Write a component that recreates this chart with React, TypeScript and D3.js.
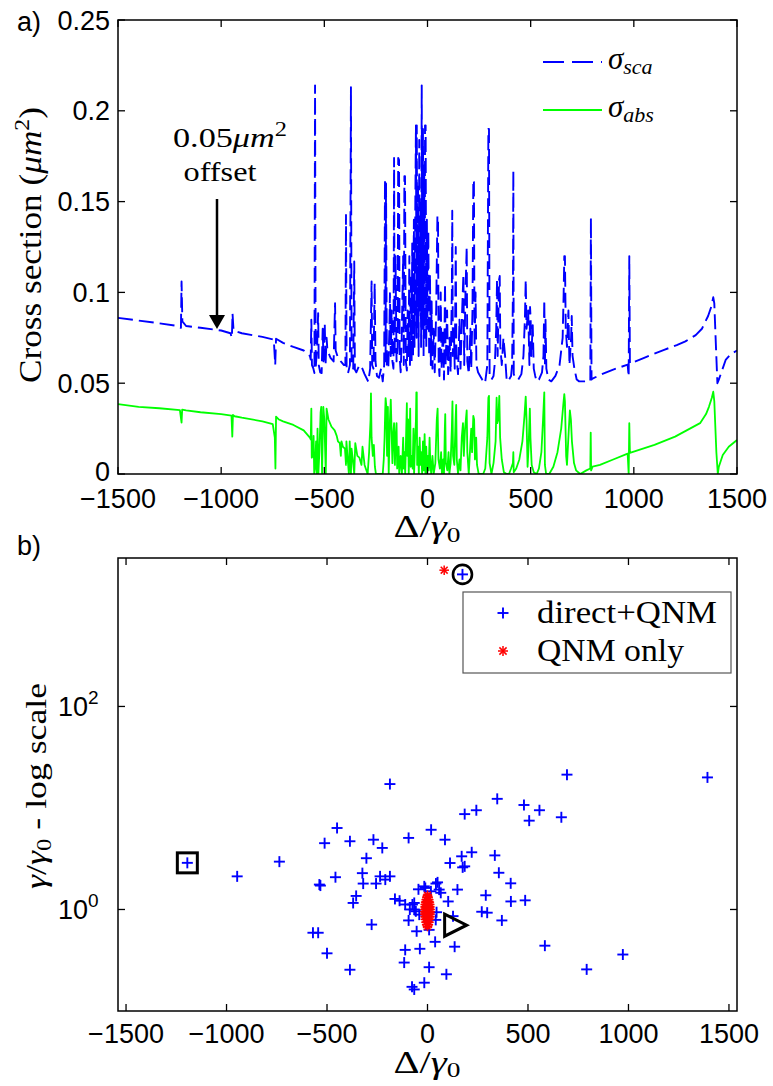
import React from "react";
import * as d3 from "d3";

// ---------- Panel a) data: scattering (offset by 0.05) and absorption cross sections ----------
const SCA: [number, number][] = [
  [-1500, 0.086], [-1400, 0.0845], [-1300, 0.083], [-1210, 0.0815], [-1195, 0.0805], [-1192, 0.106], [-1188, 0.084],
  [-1170, 0.0815], [-1100, 0.0805], [-1000, 0.079], [-955, 0.0775], [-948, 0.075], [-945, 0.0885], [-940, 0.079],
  [-900, 0.0775], [-800, 0.0755], [-745, 0.074], [-738, 0.06], [-734, 0.0745], [-700, 0.0722], [-650, 0.07],
  [-600, 0.068], [-570, 0.065], [-566, 0.063],
  [-563, 0.085], [-560, 0.06], [-553, 0.058], [-548, 0.0556], [-545, 0.214], [-542, 0.058], [-535, 0.07], [-530, 0.0886],
  [-527, 0.06], [-520, 0.056], [-513, 0.0556], [-508, 0.08], [-504, 0.062], [-498, 0.083], [-494, 0.06], [-489, 0.075],
  [-485, 0.068], [-470, 0.064], [-455, 0.062], [-448, 0.094], [-445, 0.068], [-434, 0.064], [-420, 0.062], [-405, 0.06],
  [-398, 0.06], [-395, 0.1426], [-392, 0.058], [-385, 0.0556], [-376, 0.06], [-371, 0.213], [-368, 0.06], [-360, 0.058],
  [-355, 0.117], [-352, 0.0575], [-345, 0.056], [-330, 0.06], [-319, 0.059], [-305, 0.055], [-287, 0.0508], [-278, 0.058],
  [-271, 0.106], [-268, 0.06], [-262, 0.058], [-256, 0.105], [-252, 0.062], [-245, 0.054], [-235, 0.053], [-225, 0.058],
  [-217, 0.051], [-210, 0.06], [-206, 0.162], [-203, 0.062], [-201, 0.16], [-197, 0.06], [-190, 0.058], [-185, 0.078],
  [-182, 0.0996], [-178, 0.065], [-174, 0.09], [-170, 0.062], [-165, 0.058], [-162, 0.174], [-159, 0.065], [-155, 0.12],
  [-150, 0.062], [-145, 0.07], [-142, 0.174], [-138, 0.173], [-135, 0.065], [-130, 0.056], [-125, 0.075], [-118, 0.12],
  [-115, 0.06], [-112, 0.164], [-109, 0.164], [-105, 0.062], [-100, 0.057], [-96, 0.09], [-92, 0.065], [-88, 0.12],
  [-85, 0.06], [-80, 0.11], [-77, 0.062], [-74, 0.127], [-70, 0.065], [-66, 0.14], [-63, 0.07], [-59, 0.15], [-56, 0.192],
  [-53, 0.075], [-52, 0.192], [-49, 0.08], [-46, 0.16], [-43, 0.065], [-40, 0.184], [-37, 0.09], [-34, 0.15], [-31, 0.07],
  [-28, 0.214], [-25, 0.08], [-22, 0.19], [-19, 0.065], [-16, 0.17], [-13, 0.075], [-12, 0.192], [-9, 0.192], [-6, 0.07],
  [-3, 0.14], [0, 0.08], [4, 0.134], [8, 0.065], [12, 0.11], [16, 0.06], [20, 0.095], [24, 0.058], [30, 0.08], [35, 0.056],
  [42, 0.09], [48, 0.142], [51, 0.14], [54, 0.062], [58, 0.054], [64, 0.1], [68, 0.058], [75, 0.08], [80, 0.052],
  [85, 0.105], [88, 0.06], [95, 0.09], [100, 0.055], [107, 0.075], [112, 0.056], [118, 0.1], [120, 0.145], [123, 0.065],
  [128, 0.08], [132, 0.058], [137, 0.125], [140, 0.065], [148, 0.055], [155, 0.085], [160, 0.058], [168, 0.09],
  [174, 0.11], [178, 0.06], [184, 0.1], [190, 0.125], [193, 0.062], [200, 0.055], [208, 0.08], [212, 0.058], [218, 0.09],
  [222, 0.162], [225, 0.161], [228, 0.07], [233, 0.1], [237, 0.06], [245, 0.056], [255, 0.054], [265, 0.052],
  [279, 0.05], [290, 0.06], [295, 0.19], [298, 0.19], [301, 0.055], [310, 0.052], [320, 0.054], [327, 0.062],
  [333, 0.08], [337, 0.107], [340, 0.065], [347, 0.107], [350, 0.109], [353, 0.07], [360, 0.06], [368, 0.075],
  [376, 0.065], [384, 0.051], [395, 0.052], [405, 0.054], [410, 0.06], [414, 0.1], [416, 0.167], [418, 0.055],
  [425, 0.053], [440, 0.052], [455, 0.055], [465, 0.065], [472, 0.085], [476, 0.107], [480, 0.08], [488, 0.09],
  [494, 0.06], [497, 0.092], [500, 0.085], [503, 0.065], [510, 0.082], [515, 0.058], [522, 0.054], [529, 0.051],
  [540, 0.052], [555, 0.056], [562, 0.065], [566, 0.096], [569, 0.06], [572, 0.085], [576, 0.058], [586, 0.052],
  [600, 0.051], [620, 0.054], [640, 0.06], [655, 0.075], [660, 0.1], [663, 0.12], [666, 0.12], [670, 0.08], [676, 0.07],
  [683, 0.09], [688, 0.06], [696, 0.075], [699, 0.087], [703, 0.065], [712, 0.058], [723, 0.052], [735, 0.051],
  [747, 0.051], [770, 0.051], [789, 0.051], [792, 0.141], [795, 0.052], [800, 0.0525],
  [836, 0.0545], [900, 0.0575], [970, 0.0602], [975, 0.0536], [978, 0.12], [981, 0.0608], [1050, 0.064], [1150, 0.0685],
  [1208, 0.071], [1250, 0.073], [1300, 0.0765], [1330, 0.08], [1360, 0.087], [1375, 0.092], [1385, 0.0973], [1390, 0.094],
  [1398, 0.07], [1405, 0.05], [1412, 0.052], [1445, 0.0628], [1470, 0.066], [1500, 0.068],
];

const ABS: [number, number][] = [
  [-1500, 0.0385], [-1400, 0.037], [-1300, 0.0362], [-1200, 0.0352], [-1192, 0.0283], [-1189, 0.0355], [-1170, 0.035],
  [-1100, 0.034], [-1000, 0.033], [-950, 0.0322], [-946, 0.0206], [-943, 0.0325], [-935, 0.0318], [-900, 0.031],
  [-800, 0.029], [-750, 0.0275], [-740, 0.02], [-737, 0.003], [-734, 0.0316], [-720, 0.03], [-700, 0.029], [-650, 0.027],
  [-600, 0.024], [-570, 0.02], [-566, 0.019],
  [-563, 0.036], [-561, 0.009], [-555, 0.01], [-552, 0.021], [-549, 0], [-545, 0.003], [-540, 0.018], [-536, 0],
  [-533, 0.025], [-529, 0], [-524, 0.012], [-518, 0.034], [-515, 0.037], [-511, 0], [-505, 0.037], [-500, 0.03],
  [-493, 0], [-489, 0.036], [-480, 0.03], [-465, 0.026], [-450, 0.024], [-440, 0.021], [-434, 0.018], [-425, 0.017],
  [-420, 0.01], [-417, 0.018], [-410, 0.015], [-400, 0.014], [-395, 0.005], [-393, 0.018], [-388, 0.01], [-381, 0],
  [-377, 0.018], [-371, 0], [-368, 0.014], [-362, 0.008], [-355, 0], [-350, 0.017], [-340, 0.01], [-330, 0.009],
  [-320, 0.005], [-315, 0.015], [-305, 0.005], [-290, 0], [-283, 0.012], [-276, 0.03], [-274, 0.0444], [-271, 0.02],
  [-265, 0.01], [-260, 0.016], [-255, 0.004], [-250, 0], [-240, 0], [-225, 0], [-217, 0], [-212, 0.008], [-208, 0.02],
  [-205, 0.035], [-203, 0.0418], [-200, 0.038], [-196, 0.01], [-192, 0.037], [-188, 0], [-182, 0.03], [-178, 0.041],
  [-175, 0.028], [-170, 0.006], [-166, 0.022], [-162, 0.028], [-158, 0.005], [-154, 0.02], [-150, 0.028], [-147, 0.003],
  [-140, 0.015], [-137, 0], [-130, 0.01], [-124, 0], [-118, 0.02], [-115, 0.003], [-112, 0.012], [-108, 0],
  [-103, 0.025], [-100, 0.039], [-98, 0.01], [-94, 0.03], [-91, 0], [-88, 0.012], [-84, 0.036], [-81, 0.004],
  [-76, 0.01], [-72, 0.003], [-68, 0.025], [-65, 0], [-61, 0.015], [-56, 0.03], [-54, 0.045], [-52, 0.045], [-50, 0.005],
  [-46, 0.015], [-42, 0], [-38, 0.02], [-34, 0.005], [-30, 0.012], [-26, 0], [-22, 0.018], [-18, 0.002], [-14, 0.022],
  [-10, 0], [-6, 0.015], [-2, 0], [2, 0.01], [6, 0.002], [10, 0.02], [14, 0.005], [18, 0], [24, 0.01], [30, 0],
  [38, 0.006], [45, 0.03], [49, 0.036], [53, 0.008], [60, 0.003], [66, 0.012], [70, 0], [76, 0.008], [80, 0],
  [84, 0.025], [86, 0.033], [89, 0.006], [96, 0.002], [102, 0.012], [106, 0], [112, 0.006], [118, 0.025], [121, 0.04],
  [124, 0.01], [130, 0.005], [136, 0.03], [139, 0.038], [142, 0.008], [148, 0], [155, 0.008], [160, 0.002], [166, 0.02],
  [172, 0.028], [176, 0.01], [182, 0.025], [186, 0.03], [190, 0.035], [193, 0.012], [200, 0], [207, 0.015], [212, 0.025],
  [216, 0.012], [222, 0.032], [226, 0.03], [230, 0.008], [236, 0.02], [240, 0.005], [248, 0], [260, 0], [270, 0],
  [280, 0.003], [290, 0.02], [295, 0.042], [298, 0.043], [301, 0.006], [310, 0], [320, 0.006], [330, 0.018],
  [335, 0.042], [338, 0.028], [343, 0.03], [348, 0.043], [352, 0.02], [360, 0.008], [370, 0.001], [384, 0], [395, 0],
  [405, 0.003], [414, 0.006], [416, 0.012], [418, 0.001], [430, 0.003], [445, 0.008], [460, 0.018], [470, 0.032],
  [476, 0.0426], [480, 0.03], [485, 0.004], [490, 0.015], [496, 0.036], [499, 0.02], [505, 0.005], [515, 0.001],
  [529, 0], [540, 0.003], [552, 0.012], [560, 0.03], [566, 0.045], [569, 0.005], [575, 0], [590, 0], [610, 0.004],
  [630, 0.012], [648, 0.025], [658, 0.038], [663, 0.044], [666, 0.04], [672, 0.01], [676, 0.005], [685, 0.025],
  [690, 0.035], [695, 0.03], [700, 0.018], [710, 0.006], [720, 0.002], [740, 0], [770, 0.002], [789, 0.003],
  [791, 0.0228], [793, 0.002], [800, 0.004],
  [836, 0.005], [900, 0.008], [970, 0.0112], [975, 0], [978, 0.028], [981, 0.0116], [1100, 0.016], [1200, 0.0206],
  [1321, 0.028], [1350, 0.033], [1364, 0.037], [1378, 0.042], [1385, 0.0453], [1390, 0.04], [1400, 0.012], [1407, 0],
  [1412, 0.004], [1431, 0.0105], [1460, 0.015], [1500, 0.0187],
];

const A_X_TICKS = [-1500, -1000, -500, 0, 500, 1000, 1500];
const A_Y_TICKS = [0, 0.05, 0.1, 0.15, 0.2, 0.25];
const A_Y_LABELS = ["0", "0.05", "0.1", "0.15", "0.2", "0.25"];

// ---------- Panel b) data: resonances (Δ/γ0, γ/γ0) ----------
const DIRECT_QNM: [number, number][] = [
  [-1195, 2.88], [-947, 2.12], [-737, 2.96], [-187, 17.2], [-450, 6.35], [-512, 4.5], [-386, 4.7], [-269, 4.87],
  [-225, 4.04], [-304, 3.2], [-538, 1.76], [-533, 1.72], [-458, 2.08], [-324, 2.28], [-320, 1.8], [-256, 1.8],
  [-236, 2.12], [-210, 1.97], [-187, 2.12], [-355, 1.36], [-370, 1.16], [-162, 1.27], [-139, 1.22], [-111, 1.12],
  [-278, 0.71], [-570, 0.59], [-544, 0.59], [-500, 0.37], [-386, 0.255], [-94, 5.07], [18, 6.1], [87, 4.87],
  [112, 2.87], [170, 3.34], [220, 3.66], [175, 2.6], [185, 2.66], [185, 8.7], [243, 9.5], [347, 12.3], [480, 10.7],
  [557, 9.5], [506, 7.5], [666, 8.1], [694, 21.3], [1393, 20.0], [335, 3.41], [355, 2.3], [414, 1.81], [415, 1.2],
  [486, 1.23], [290, 1.38], [270, 0.95], [297, 0.93], [370, 0.78], [584, 0.44], [972, 0.36], [792, 0.257],
  [149, 1.57], [103, 1.2], [58, 1.57], [66, 1.46], [50, 1.85], [42, 1.8], [17, 1.51], [-16, 1.69], [-45, 1.58],
  [-11, 1.63], [-66, 1.16], [-66, 1.0], [-88, 1.0], [-75, 1.12], [-58, 0.96], [-41, 0.89], [45, 0.94], [41, 0.79],
  [127, 0.86], [-94, 0.78], [8, 0.63], [-54, 0.61], [38, 0.48], [135, 0.43], [-111, 0.4], [-38, 0.41], [-116, 0.3],
  [8, 0.27], [94, 0.23], [-16, 0.19], [-77, 0.173], [-66, 0.163], [174, 2000],
];

const QNM_ONLY: [number, number][] = [
  [83, 2200],
  [0, 0.68], [-4, 0.71], [4, 0.71], [-7, 0.75], [7, 0.75], [-10, 0.8], [10, 0.8], [-12, 0.85], [12, 0.85], [-13, 0.9],
  [13, 0.9], [-13, 0.95], [13, 0.95], [-13, 1.0], [13, 1.0], [-12, 1.06], [12, 1.06], [-11, 1.12], [11, 1.12],
  [-9, 1.18], [9, 1.18], [-6, 1.25], [6, 1.25], [-3, 1.32], [3, 1.32], [0, 1.38], [0, 1.0], [0, 0.8], [0, 1.2],
  [0, 0.9], [0, 1.1], [-6, 0.95], [6, 0.95], [-6, 1.05], [6, 1.05], [-6, 0.85], [6, 0.85],
];

// highlighted resonances: [Δ, γ]
const SQUARE_MARK: [number, number] = [-1195, 2.88];
const CIRCLE_MARK: [number, number] = [174, 2000];
const TRIANGLE_MARK: [number, number] = [135, 0.7];

const B_X_TICKS = [-1500, -1000, -500, 0, 500, 1000, 1500];
const B_Y_TICKS = [1, 100];
const B_Y_EXP = ["0", "2"];

const SANS = "'Liberation Sans', Arial, Helvetica, sans-serif";
const SERIF = "'Liberation Serif', 'Times New Roman', serif";
const BLUE = "#0000ff";
const GREEN = "#00ff00";
const RED = "#ff0000";

const fmtTick = (v: number) => (v < 0 ? "\u2212" + Math.abs(v) : String(v));

export default function App() {
  // Panel a geometry
  const aL = 118, aR = 737, aT = 20, aB = 474;
  const xa = d3.scaleLinear().domain([-1500, 1500]).range([aL, aR]);
  const ya = d3.scaleLinear().domain([0, 0.25]).range([aB, aT]);
  const lineA = d3.line<[number, number]>().x((d) => xa(d[0])).y((d) => ya(d[1]));

  // Panel b geometry
  const bL = 118, bR = 737, bT = 558, bB = 1011;
  const xb = d3.scaleLinear().domain([-1540, 1540]).range([bL, bR]);
  const yb = d3.scaleLog().domain([0.1, 2900]).range([bB, bT]);

  const tk = 7;
  const plus = (cx: number, cy: number, s: number, color: string, key: string | number, w = 1.9) => (
    <g key={key} stroke={color} strokeWidth={w}>
      <line x1={cx - s} x2={cx + s} y1={cy} y2={cy} />
      <line x1={cx} x2={cx} y1={cy - s} y2={cy + s} />
    </g>
  );
  const star = (cx: number, cy: number, s: number, color: string, key: string | number) => {
    const d = s * 0.72;
    return (
      <g key={key} stroke={color} strokeWidth={1.5}>
        <line x1={cx - s} x2={cx + s} y1={cy} y2={cy} />
        <line x1={cx} x2={cx} y1={cy - s} y2={cy + s} />
        <line x1={cx - d} x2={cx + d} y1={cy - d} y2={cy + d} />
        <line x1={cx - d} x2={cx + d} y1={cy + d} y2={cy - d} />
      </g>
    );
  };

  const sqX = xb(SQUARE_MARK[0]), sqY = yb(SQUARE_MARK[1]);
  const ciX = xb(CIRCLE_MARK[0]), ciY = yb(CIRCLE_MARK[1]);
  const trX = xb(TRIANGLE_MARK[0]), trY = yb(TRIANGLE_MARK[1]);

  return (
    <svg width={773} height={1086} style={{ position: "absolute", left: 0, top: 0, background: "#fff" }}>
      <rect x={0} y={0} width={773} height={1086} fill="#fff" />
      <defs>
        <clipPath id="clipA">
          <rect x={aL} y={aT} width={aR - aL} height={aB - aT} />
        </clipPath>
      </defs>

      {/* ================= Panel a ================= */}
      <text x={17} y={31} fontFamily={SANS} fontSize={27}>a)</text>
      <g clipPath="url(#clipA)">
        <path d={lineA(ABS) || ""} fill="none" stroke={GREEN} strokeWidth={1.8} strokeLinejoin="round" />
        <path d={lineA(SCA) || ""} fill="none" stroke={BLUE} strokeWidth={1.9} strokeDasharray="15,6" strokeLinejoin="round" />
      </g>
      <rect x={aL} y={aT} width={aR - aL} height={aB - aT} fill="none" stroke="#000" strokeWidth={1.5} />
      {A_X_TICKS.map((v) => (
        <g key={"ax" + v} stroke="#000" strokeWidth={1.3}>
          <line x1={xa(v)} x2={xa(v)} y1={aB} y2={aB - tk} />
          <line x1={xa(v)} x2={xa(v)} y1={aT} y2={aT + tk} />
        </g>
      ))}
      {A_Y_TICKS.map((v) => (
        <g key={"ay" + v} stroke="#000" strokeWidth={1.3}>
          <line x1={aL} x2={aL + tk} y1={ya(v)} y2={ya(v)} />
          <line x1={aR} x2={aR - tk} y1={ya(v)} y2={ya(v)} />
        </g>
      ))}
      {A_X_TICKS.map((v) => (
        <text key={"axl" + v} x={xa(v)} y={508} textAnchor="middle" fontFamily={SANS} fontSize={27}>{fmtTick(v)}</text>
      ))}
      {A_Y_TICKS.map((v, i) => (
        <text key={"ayl" + v} x={110} y={ya(v) + (v === 0 ? 7 : 9.5)} textAnchor="end" fontFamily={SANS} fontSize={27}>{A_Y_LABELS[i]}</text>
      ))}
      <text x={427} y={537} textAnchor="middle" fontFamily={SERIF} fontSize={31} textLength={67} lengthAdjust="spacingAndGlyphs">
        Δ/<tspan fontStyle="italic">γ</tspan><tspan fontSize={21} dy={5}>0</tspan>
      </text>
      <text transform="translate(41,245) rotate(-90)" textAnchor="middle" fontFamily={SERIF} fontSize={31} textLength={276} lengthAdjust="spacingAndGlyphs">
        Cross section (<tspan fontStyle="italic">μm</tspan><tspan fontSize={21} dy={-12}>2</tspan><tspan dy={12}>)</tspan>
      </text>
      {/* annotation */}
      <text x={230} y={147} textAnchor="middle" fontFamily={SERIF} fontSize={28} textLength={114} lengthAdjust="spacingAndGlyphs">
        0.05<tspan fontStyle="italic">μm</tspan><tspan fontSize={20} dy={-11}>2</tspan>
      </text>
      <text x={220} y={181} textAnchor="middle" fontFamily={SERIF} fontSize={28} textLength={73} lengthAdjust="spacingAndGlyphs">offset</text>
      <line x1={217} x2={217} y1={199} y2={318} stroke="#000" strokeWidth={2.5} />
      <polygon points="209,315 225,315 217,329" fill="#000" />
      {/* legend a */}
      <line x1={543} x2={602} y1={62} y2={62} stroke={BLUE} strokeWidth={1.9} strokeDasharray="21,8" />
      <text x={608} y={69} fontFamily={SERIF} fontSize={31} fontStyle="italic">
        σ<tspan fontSize={22} dy={5}>sca</tspan>
      </text>
      <line x1={543} x2={602} y1={110} y2={110} stroke={GREEN} strokeWidth={1.9} />
      <text x={608} y={117} fontFamily={SERIF} fontSize={31} fontStyle="italic">
        σ<tspan fontSize={22} dy={5}>abs</tspan>
      </text>

      {/* ================= Panel b ================= */}
      <text x={17} y={555} fontFamily={SANS} fontSize={27}>b)</text>
      <rect x={bL} y={bT} width={bR - bL} height={bB - bT} fill="none" stroke="#000" strokeWidth={1.5} />
      {B_X_TICKS.map((v) => (
        <g key={"bx" + v} stroke="#000" strokeWidth={1.3}>
          <line x1={xb(v)} x2={xb(v)} y1={bB} y2={bB - tk} />
          <line x1={xb(v)} x2={xb(v)} y1={bT} y2={bT + tk} />
        </g>
      ))}
      {B_Y_TICKS.map((v) => (
        <g key={"by" + v} stroke="#000" strokeWidth={1.3}>
          <line x1={bL} x2={bL + tk} y1={yb(v)} y2={yb(v)} />
          <line x1={bR} x2={bR - tk} y1={yb(v)} y2={yb(v)} />
        </g>
      ))}
      {B_X_TICKS.map((v) => (
        <text key={"bxl" + v} x={xb(v)} y={1043} textAnchor="middle" fontFamily={SANS} fontSize={27}>{fmtTick(v)}</text>
      ))}
      {B_Y_TICKS.map((v, i) => (
        <text key={"byl" + v} x={58} y={yb(v) + 10} fontFamily={SANS} fontSize={27}>
          10<tspan fontSize={19} dy={-12}>{B_Y_EXP[i]}</tspan>
        </text>
      ))}
      <text x={427} y={1073} textAnchor="middle" fontFamily={SERIF} fontSize={31} textLength={67} lengthAdjust="spacingAndGlyphs">
        Δ/<tspan fontStyle="italic">γ</tspan><tspan fontSize={21} dy={4}>0</tspan>
      </text>
      <text transform="translate(46,786) rotate(-90)" textAnchor="middle" fontFamily={SERIF} fontSize={29} textLength={206} lengthAdjust="spacingAndGlyphs">
        <tspan fontStyle="italic">γ</tspan>/<tspan fontStyle="italic">γ</tspan><tspan fontSize={20} dy={5}>0</tspan><tspan dy={-5}> - log scale</tspan>
      </text>

      {DIRECT_QNM.map((d, i) => plus(xb(d[0]), yb(d[1]), 5.5, BLUE, "p" + i))}
      {QNM_ONLY.map((d, i) => star(xb(d[0]), yb(d[1]), 4.8, RED, "s" + i))}

      {/* highlight marks */}
      <rect x={sqX - 10} y={sqY - 10} width={20} height={20} fill="none" stroke="#000" strokeWidth={3} />
      <circle cx={ciX} cy={ciY} r={9.5} fill="none" stroke="#000" strokeWidth={2.6} />
      <polygon
        points={`${trX - 10},${trY - 11} ${trX + 12},${trY} ${trX - 10},${trY + 11}`}
        fill="none"
        stroke="#000"
        strokeWidth={3}
        strokeLinejoin="miter"
      />

      {/* legend b */}
      <rect x={463} y={592} width={268} height={81} fill="#fff" stroke="#555" strokeWidth={1.2} />
      {plus(503, 613, 5.5, BLUE, "lp")}
      <text x={537} y={623} fontFamily={SERIF} fontSize={31} textLength={180} lengthAdjust="spacingAndGlyphs">direct+QNM</text>
      {star(503, 651, 5, RED, "ls")}
      <text x={537} y={661} fontFamily={SERIF} fontSize={31} textLength={147} lengthAdjust="spacingAndGlyphs">QNM only</text>
    </svg>
  );
}
